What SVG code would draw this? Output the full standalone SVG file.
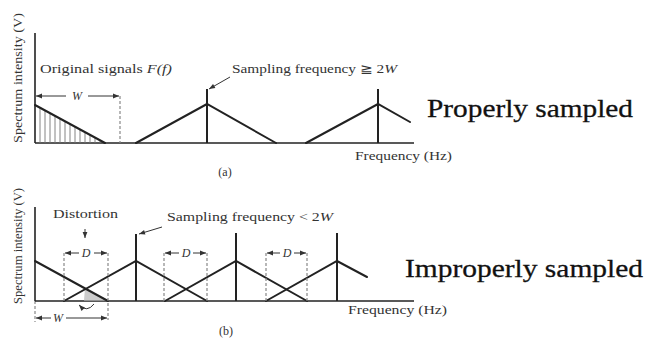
<svg xmlns="http://www.w3.org/2000/svg" width="647" height="338" viewBox="0 0 647 338">
<style>
.ax{stroke:#222;stroke-width:1.6;fill:none}
.sig{stroke:#222;stroke-width:2;fill:none;stroke-linecap:round}
.smp{stroke:#222;stroke-width:2;fill:none}
.dash{stroke:#888;stroke-width:1.2;stroke-dasharray:3,2;fill:none}
.hatch{stroke:#777;stroke-width:0.9}
.dim{stroke:#333;stroke-width:1;fill:none}
.t{font-family:"Liberation Serif","Times New Roman",serif;fill:#333;font-size:12px}
.big{font-family:"Liberation Serif","Times New Roman",serif;fill:#111;font-size:26px;stroke:#111;stroke-width:0.3}
.it{font-style:italic}
</style>
<defs>
<marker id="ah" viewBox="0 0 10 10" refX="10" refY="5" markerWidth="7" markerHeight="6" orient="auto-start-reverse" markerUnits="userSpaceOnUse">
<path d="M0,1 L10,5 L0,9 Z" fill="#333"/>
</marker>
</defs>

<g id="panel-a">
  <g id="axes-a">
    <line class="ax" x1="35" y1="33" x2="35" y2="143"/>
    <line class="ax" x1="35" y1="143" x2="414" y2="143"/>
    <text class="t" transform="translate(22,78) rotate(-90)" text-anchor="middle" textLength="130" lengthAdjust="spacingAndGlyphs">Spectrum intensity (V)</text>
    <text class="t" x="355" y="160" textLength="97" lengthAdjust="spacingAndGlyphs" font-size="13">Frequency (Hz)</text>
    <text class="t" x="225" y="176" text-anchor="middle" font-size="9">(a)</text>
  </g>
  <g id="original-a">
    <g class="hatch">
      <line x1="40" y1="107.7" x2="40" y2="143"/>
      <line x1="45" y1="110.4" x2="45" y2="143"/>
      <line x1="50" y1="113.1" x2="50" y2="143"/>
      <line x1="55" y1="115.9" x2="55" y2="143"/>
      <line x1="60" y1="118.6" x2="60" y2="143"/>
      <line x1="65" y1="121.3" x2="65" y2="143"/>
      <line x1="70" y1="124" x2="70" y2="143"/>
      <line x1="75" y1="126.7" x2="75" y2="143"/>
      <line x1="80" y1="129.4" x2="80" y2="143"/>
      <line x1="85" y1="132.1" x2="85" y2="143"/>
      <line x1="90" y1="134.9" x2="90" y2="143"/>
      <line x1="95" y1="137.6" x2="95" y2="143"/>
      <line x1="100" y1="140.3" x2="100" y2="143"/>
    </g>
    <polyline class="sig" points="35,105 105,143"/>
    <text class="t" x="40" y="73" textLength="132" lengthAdjust="spacingAndGlyphs" font-size="12.5">Original signals <tspan class="it">F(f)</tspan></text>
  </g>
  <g id="width-a">
    <line class="dash" x1="120" y1="96" x2="120" y2="143"/>
    <line class="dim" x1="36" y1="96" x2="66" y2="96" marker-start="url(#ah)"/>
    <line class="dim" x1="88" y1="96" x2="119" y2="96" marker-end="url(#ah)"/>
    <text class="t it" x="77" y="100" text-anchor="middle" font-size="12">W</text>
  </g>
  <g id="replica-a1">
    <polyline class="sig" points="136,143 207,104 276,143"/>
    <line class="smp" x1="207" y1="89" x2="207" y2="143"/>
  </g>
  <g id="replica-a2">
    <polyline class="sig" points="306,143 378,104 410,122"/>
    <line class="smp" x1="378" y1="89" x2="378" y2="143"/>
  </g>
  <g id="label-a">
    <text class="t" x="232" y="73" textLength="165" lengthAdjust="spacingAndGlyphs" font-size="12.5">Sampling frequency ≧ 2<tspan class="it">W</tspan></text>
  </g>
  <text id="properly" class="big" x="427" y="117" textLength="206" lengthAdjust="spacingAndGlyphs">Properly sampled</text>
</g>

<g id="panel-b">
  <g id="axes-b">
    <line class="ax" x1="35" y1="207" x2="35" y2="301"/>
    <line class="dash" x1="35" y1="301" x2="35" y2="322"/>
    <line class="ax" x1="35" y1="301" x2="414" y2="301"/>
    <text class="t" transform="translate(22,246) rotate(-90)" text-anchor="middle" textLength="116" lengthAdjust="spacingAndGlyphs">Spectrum intensity (V)</text>
    <text class="t" x="348" y="314" textLength="99" lengthAdjust="spacingAndGlyphs" font-size="13">Frequency (Hz)</text>
    <text class="t" x="226" y="335" text-anchor="middle" font-size="9">(b)</text>
  </g>
  <g id="overlap-shade">
    <polygon points="85,288 107,300.5 84,300.5" fill="#ccc" stroke="none"/>
  </g>
  <g id="original-b">
    <polyline class="sig" points="35,261 108,301"/>
  </g>
  <g id="replica-b1">
    <polyline class="sig" points="64,301 136,261 207,301"/>
    <line class="smp" x1="136" y1="234" x2="136" y2="301"/>
  </g>
  <g id="replica-b2">
    <polyline class="sig" points="165,301 236,261 307,301"/>
    <line class="smp" x1="236" y1="233" x2="236" y2="301"/>
  </g>
  <g id="replica-b3">
    <polyline class="sig" points="266,301 337,261 367,277"/>
    <line class="smp" x1="337" y1="233" x2="337" y2="301"/>
  </g>
  <g id="distortion-d1">
    <line class="dash" x1="64" y1="253" x2="64" y2="301"/>
    <line class="dash" x1="108" y1="253" x2="108" y2="320"/>
    <line class="dim" x1="65" y1="253" x2="79" y2="253" marker-start="url(#ah)"/>
    <line class="dim" x1="94" y1="253" x2="107" y2="253" marker-end="url(#ah)"/>
    <text class="t it" x="86" y="257" text-anchor="middle" font-size="12">D</text>
  </g>
  <g id="distortion-d2">
    <line class="dash" x1="164" y1="253" x2="164" y2="301"/>
    <line class="dash" x1="207" y1="253" x2="207" y2="301"/>
    <line class="dim" x1="165" y1="253" x2="179" y2="253" marker-start="url(#ah)"/>
    <line class="dim" x1="193" y1="253" x2="206" y2="253" marker-end="url(#ah)"/>
    <text class="t it" x="186" y="257" text-anchor="middle" font-size="12">D</text>
  </g>
  <g id="distortion-d3">
    <line class="dash" x1="266" y1="253" x2="266" y2="301"/>
    <line class="dash" x1="307" y1="253" x2="307" y2="301"/>
    <line class="dim" x1="267" y1="253" x2="280" y2="253" marker-start="url(#ah)"/>
    <line class="dim" x1="294" y1="253" x2="306" y2="253" marker-end="url(#ah)"/>
    <text class="t it" x="287" y="257" text-anchor="middle" font-size="12">D</text>
  </g>
  <g id="width-b">
    <line class="dim" x1="36" y1="318" x2="51" y2="318" marker-start="url(#ah)"/>
    <line class="dim" x1="66" y1="318" x2="107" y2="318" marker-end="url(#ah)"/>
    <text class="t it" x="58" y="322" text-anchor="middle" font-size="12">W</text>
  </g>
  <g id="label-distortion">
    <text class="t" x="53" y="218" textLength="65" lengthAdjust="spacingAndGlyphs" font-size="12.5">Distortion</text>
  </g>
  <g id="label-b">
    <text class="t" x="167" y="221" textLength="166" lengthAdjust="spacingAndGlyphs" font-size="12.5">Sampling frequency &lt; 2<tspan class="it">W</tspan></text>
  </g>
  <text id="improperly" class="big" x="405" y="277" textLength="238" lengthAdjust="spacingAndGlyphs">Improperly sampled</text>
</g>

<g id="connectors">
  <line class="dim" x1="230" y1="77" x2="209" y2="89" marker-end="url(#ah)"/>
  <line class="dim" x1="162" y1="227" x2="139" y2="234" marker-end="url(#ah)"/>
  <line class="dim" x1="85" y1="229" x2="85" y2="238" marker-end="url(#ah)"/>
  <path class="dim" d="M94,304 Q87,313 79,305" marker-end="url(#ah)"/>
</g>
</svg>
